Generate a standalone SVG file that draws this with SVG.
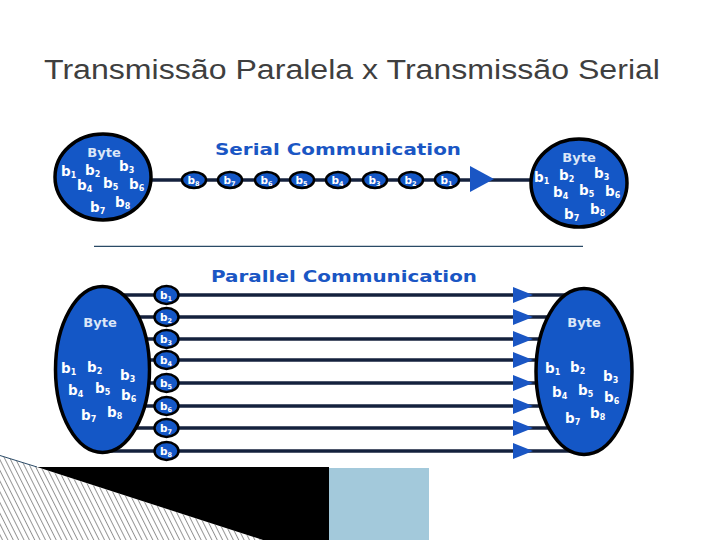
<svg xmlns="http://www.w3.org/2000/svg" width="720" height="540" viewBox="0 0 720 540">
<defs>
<style>
.title{font-family:"Liberation Sans",Arial,sans-serif;font-size:27px;fill:#3f3f3f}
.head{font-family:"DejaVu Sans",Verdana,sans-serif;font-weight:bold;font-size:16.5px;fill:#1a56c4}
.big{fill:#1457c6;stroke:#000;stroke-width:3.5}
.bit{fill:#1457c6;stroke:#000;stroke-width:2.5}
.byte{font-family:"DejaVu Sans",Verdana,sans-serif;font-weight:bold;font-size:13px;fill:#dbe6f7;text-anchor:middle}
.b{font-family:"DejaVu Sans",Verdana,sans-serif;font-weight:bold;font-size:13.5px;fill:#fff}
.sb{font-size:8px}
.bt{font-family:"DejaVu Sans",Verdana,sans-serif;font-weight:bold;font-size:10.5px;fill:#fff}
.sbt{font-size:6.5px}
.wire{stroke:#14213d;stroke-width:3.5;fill:none}
.arr{fill:#1a56c4}
</style>
<pattern id="hatch" patternUnits="userSpaceOnUse" width="4.8" height="10" patternTransform="rotate(-26.6)">
<line x1="0.5" y1="0" x2="0.5" y2="10" stroke="#777" stroke-width="0.8"/>
</pattern>
</defs>
<rect width="720" height="540" fill="#fff"/>

<text class="title" x="44" y="79" textLength="616" lengthAdjust="spacingAndGlyphs">Transmissão Paralela x Transmissão Serial</text>

<g id="labels">
<text class="head" x="215" y="155" textLength="246" lengthAdjust="spacingAndGlyphs">Serial Communication</text>
<text class="head" x="211" y="282" textLength="266" lengthAdjust="spacingAndGlyphs">Parallel Communication</text>
</g>

<line x1="94" y1="246.3" x2="583" y2="246.3" stroke="#2a4a66" stroke-width="1.2"/>

<g id="connectors">
<line class="wire" x1="145" y1="180" x2="535" y2="180"/>
<polygon class="arr" points="470,166 494,179 470,192"/>
<line class="wire" x1="110" y1="295" x2="570" y2="295"/>
<line class="wire" x1="110" y1="317" x2="570" y2="317"/>
<line class="wire" x1="110" y1="339" x2="570" y2="339"/>
<line class="wire" x1="110" y1="360" x2="570" y2="360"/>
<line class="wire" x1="110" y1="383" x2="570" y2="383"/>
<line class="wire" x1="110" y1="406" x2="570" y2="406"/>
<line class="wire" x1="110" y1="428" x2="570" y2="428"/>
<line class="wire" x1="110" y1="451" x2="570" y2="451"/>
<polygon class="arr" points="513,287 533,295 513,303"/>
<polygon class="arr" points="513,309 533,317 513,325"/>
<polygon class="arr" points="513,331 533,339 513,347"/>
<polygon class="arr" points="513,352 533,360 513,368"/>
<polygon class="arr" points="513,375 533,383 513,391"/>
<polygon class="arr" points="513,398 533,406 513,414"/>
<polygon class="arr" points="513,420 533,428 513,436"/>
<polygon class="arr" points="513,443 533,451 513,459"/>
</g>

<g id="serial-source">
<ellipse class="big" cx="103" cy="177" rx="48" ry="43"/>
<text class="byte" x="104" y="157">Byte</text>
<text class="b" x="61" y="176">b<tspan class="sb" dy="2">1</tspan></text>
<text class="b" x="85" y="175">b<tspan class="sb" dy="2">2</tspan></text>
<text class="b" x="119" y="171">b<tspan class="sb" dy="2">3</tspan></text>
<text class="b" x="77" y="190">b<tspan class="sb" dy="2">4</tspan></text>
<text class="b" x="103" y="188">b<tspan class="sb" dy="2">5</tspan></text>
<text class="b" x="129" y="189">b<tspan class="sb" dy="2">6</tspan></text>
<text class="b" x="90" y="212">b<tspan class="sb" dy="2">7</tspan></text>
<text class="b" x="115" y="207">b<tspan class="sb" dy="2">8</tspan></text>
</g>

<g id="serial-bits">
<ellipse class="bit" cx="194" cy="180" rx="12" ry="8"/><text class="bt" x="187.5" y="184">b<tspan class="sbt" dy="1.5">8</tspan></text>
<ellipse class="bit" cx="230" cy="180" rx="12" ry="8"/><text class="bt" x="223.5" y="184">b<tspan class="sbt" dy="1.5">7</tspan></text>
<ellipse class="bit" cx="267" cy="180" rx="12" ry="8"/><text class="bt" x="260.5" y="184">b<tspan class="sbt" dy="1.5">6</tspan></text>
<ellipse class="bit" cx="302" cy="180" rx="12" ry="8"/><text class="bt" x="295.5" y="184">b<tspan class="sbt" dy="1.5">5</tspan></text>
<ellipse class="bit" cx="338" cy="180" rx="12" ry="8"/><text class="bt" x="331.5" y="184">b<tspan class="sbt" dy="1.5">4</tspan></text>
<ellipse class="bit" cx="375" cy="180" rx="12" ry="8"/><text class="bt" x="368.5" y="184">b<tspan class="sbt" dy="1.5">3</tspan></text>
<ellipse class="bit" cx="411" cy="180" rx="12" ry="8"/><text class="bt" x="404.5" y="184">b<tspan class="sbt" dy="1.5">2</tspan></text>
<ellipse class="bit" cx="447" cy="180" rx="12" ry="8"/><text class="bt" x="440.5" y="184">b<tspan class="sbt" dy="1.5">1</tspan></text>
</g>

<g id="serial-target">
<ellipse class="big" cx="579" cy="183" rx="48" ry="44"/>
<text class="byte" x="579" y="162">Byte</text>
<text class="b" x="534" y="182">b<tspan class="sb" dy="2">1</tspan></text>
<text class="b" x="559" y="180">b<tspan class="sb" dy="2">2</tspan></text>
<text class="b" x="594" y="178">b<tspan class="sb" dy="2">3</tspan></text>
<text class="b" x="553" y="197">b<tspan class="sb" dy="2">4</tspan></text>
<text class="b" x="579" y="195">b<tspan class="sb" dy="2">5</tspan></text>
<text class="b" x="605" y="196">b<tspan class="sb" dy="2">6</tspan></text>
<text class="b" x="564" y="219">b<tspan class="sb" dy="2">7</tspan></text>
<text class="b" x="590" y="214">b<tspan class="sb" dy="2">8</tspan></text>
</g>

<g id="parallel-source">
<ellipse class="big" cx="102.5" cy="369.5" rx="47" ry="83"/>
<text class="byte" x="100" y="327">Byte</text>
<text class="b" x="61" y="373">b<tspan class="sb" dy="2">1</tspan></text>
<text class="b" x="87" y="372">b<tspan class="sb" dy="2">2</tspan></text>
<text class="b" x="120" y="380">b<tspan class="sb" dy="2">3</tspan></text>
<text class="b" x="68" y="395">b<tspan class="sb" dy="2">4</tspan></text>
<text class="b" x="95" y="393">b<tspan class="sb" dy="2">5</tspan></text>
<text class="b" x="121" y="400">b<tspan class="sb" dy="2">6</tspan></text>
<text class="b" x="81" y="420">b<tspan class="sb" dy="2">7</tspan></text>
<text class="b" x="107" y="417">b<tspan class="sb" dy="2">8</tspan></text>
</g>

<g id="parallel-bits">
<ellipse class="bit" cx="166.5" cy="295" rx="12" ry="9"/><text class="bt" x="160" y="299">b<tspan class="sbt" dy="1.5">1</tspan></text>
<ellipse class="bit" cx="166.5" cy="317" rx="12" ry="9"/><text class="bt" x="160" y="321">b<tspan class="sbt" dy="1.5">2</tspan></text>
<ellipse class="bit" cx="166.5" cy="339" rx="12" ry="9"/><text class="bt" x="160" y="343">b<tspan class="sbt" dy="1.5">3</tspan></text>
<ellipse class="bit" cx="166.5" cy="360" rx="12" ry="9"/><text class="bt" x="160" y="364">b<tspan class="sbt" dy="1.5">4</tspan></text>
<ellipse class="bit" cx="166.5" cy="383" rx="12" ry="9"/><text class="bt" x="160" y="387">b<tspan class="sbt" dy="1.5">5</tspan></text>
<ellipse class="bit" cx="166.5" cy="406" rx="12" ry="9"/><text class="bt" x="160" y="410">b<tspan class="sbt" dy="1.5">6</tspan></text>
<ellipse class="bit" cx="166.5" cy="428" rx="12" ry="9"/><text class="bt" x="160" y="432">b<tspan class="sbt" dy="1.5">7</tspan></text>
<ellipse class="bit" cx="166.5" cy="451" rx="12" ry="9"/><text class="bt" x="160" y="455">b<tspan class="sbt" dy="1.5">8</tspan></text>
</g>

<g id="parallel-target">
<ellipse class="big" cx="584" cy="371.5" rx="48" ry="83"/>
<text class="byte" x="584" y="327">Byte</text>
<text class="b" x="545" y="373">b<tspan class="sb" dy="2">1</tspan></text>
<text class="b" x="570" y="372">b<tspan class="sb" dy="2">2</tspan></text>
<text class="b" x="603" y="381">b<tspan class="sb" dy="2">3</tspan></text>
<text class="b" x="552" y="397">b<tspan class="sb" dy="2">4</tspan></text>
<text class="b" x="578" y="395">b<tspan class="sb" dy="2">5</tspan></text>
<text class="b" x="604" y="402">b<tspan class="sb" dy="2">6</tspan></text>
<text class="b" x="565" y="423">b<tspan class="sb" dy="2">7</tspan></text>
<text class="b" x="590" y="418">b<tspan class="sb" dy="2">8</tspan></text>
</g>

<g id="decoration">
<polygon points="0,455.5 263,540 0,540" fill="url(#hatch)"/>
<line x1="0" y1="455.5" x2="37" y2="467" stroke="#2a4a66" stroke-width="1"/>
<polygon points="37,467 329,467 329,540 263,540" fill="#000"/>
<rect x="329" y="468" width="100" height="72" fill="#a3c9db"/>
</g>
</svg>
